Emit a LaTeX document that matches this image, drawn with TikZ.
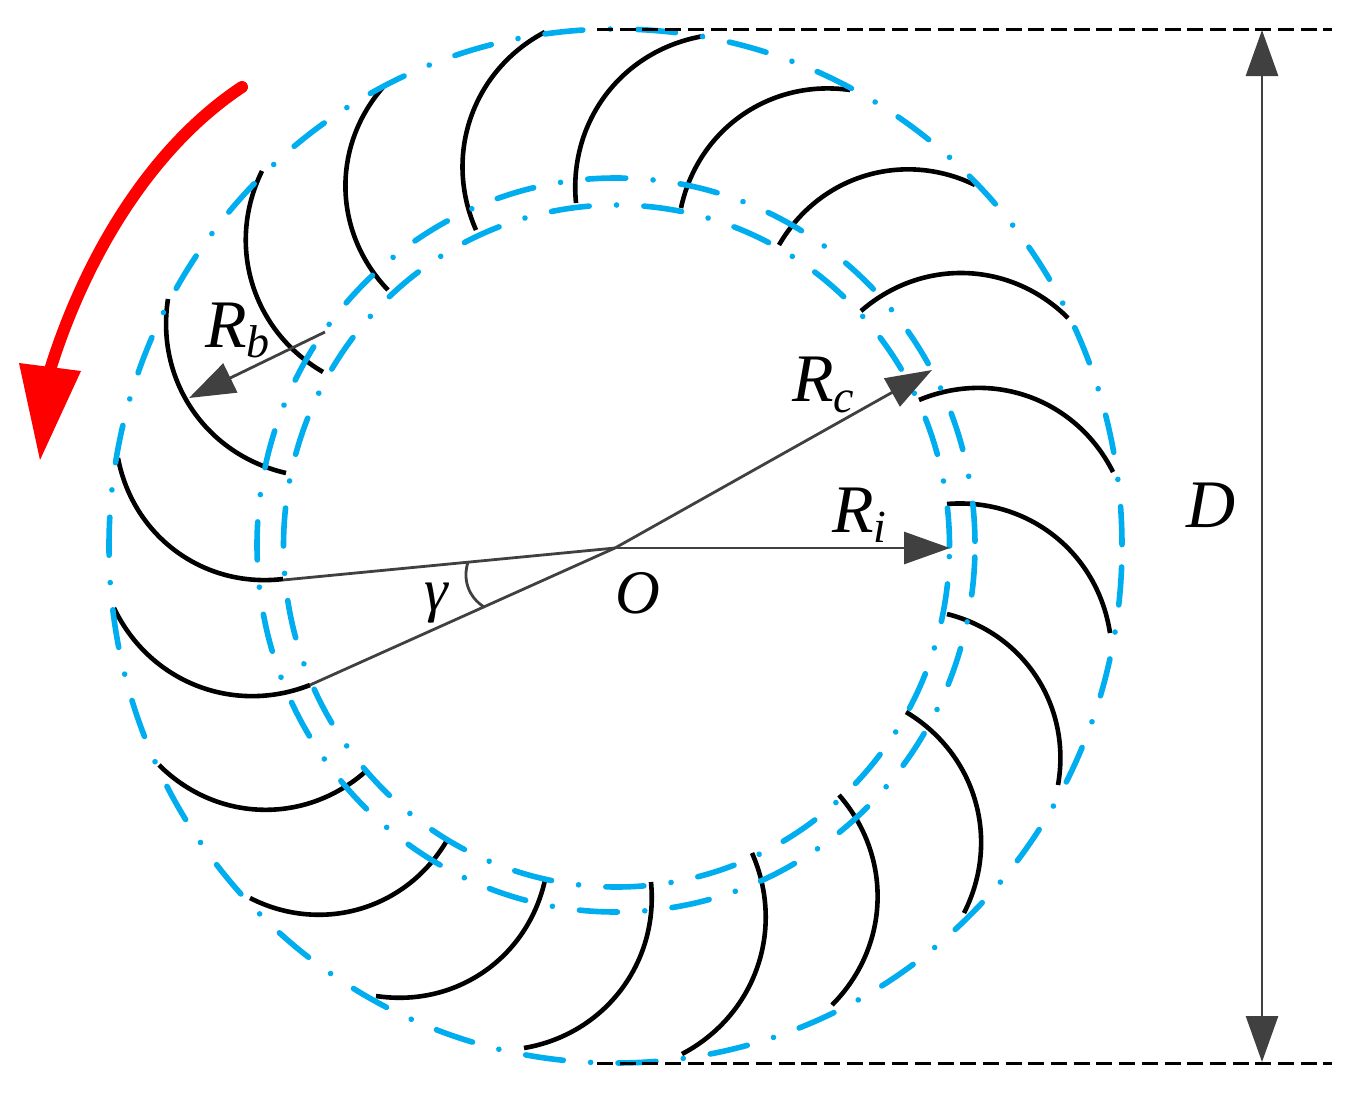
\documentclass[tikz,border=0pt]{standalone}
\usepackage{fontspec}
\setmainfont{Liberation Serif}
\usetikzlibrary{arrows.meta,calc}
\definecolor{ringblue}{HTML}{00AEEF}
\definecolor{dimgray}{HTML}{404040}
\newcommand{\lbl}[2]{{\fontsize{#1}{#1}\selectfont\itshape #2}}
\tikzset{
  ring/.style={draw=ringblue,line width=5.6pt,line cap=round,dash pattern=on 38pt off 27.4pt on 0.01pt off 27.4pt,dash phase=#1},
  blade/.style={draw=black,line width=4.6pt,bend left=#1},
  dimline/.style={draw=dimgray,line width=2.8pt},
  dimarrow/.style={dimline,-{Triangle[length=46pt,width=32pt,fill=dimgray]}},
  extline/.style={draw=black,line width=3pt,dash pattern=on 16pt off 6.7pt},
  txt/.style={anchor=base west,inner sep=0pt,outer sep=0pt}
}
\begin{document}
\begin{tikzpicture}[x=1pt,y=-1pt]
\useasboundingbox (0,0) rectangle (1357,1095);
% blades
\foreach \n/\ax/\ay/\bx/\by/\ang in {
 a/576/203/704/36/43, b/681/208/850/90/43, c/779/245/975/185/43, d/861/311/1068/318/43,
 e/919/400/1113/472/43, f/947/504/1110/633/43, g/947/614/1058/785/43, h/906/712/964/913/43,
 i/839/795/832/1005/43, j/752/853/682/1054/43, k/651/882/524/1048/43, l/545/880/376/996/43,
 m/446/842/250/898/43, n/365/772/159/765/43, o/310/685/114/608/43, p/283/579/118/458/43,
 q/286/473/168/299/43, r/323/372/262/171/43, s/388/290/385/85/43, t/476/230/545/32/43}{
  \coordinate (in\n) at (\ax,\ay);
  \coordinate (out\n) at (\bx,\by);
  \draw[blade=\ang] (in\n) to (out\n);
}
% rings
\draw[ring=71.8] (615.5,546) ellipse [x radius=506.5,y radius=517];
\draw[ring=80.8] (616,545) ellipse [x radius=359,y radius=367];
\draw[ring=54.8] (616.5,546) ellipse [x radius=333,y radius=341];
% extension lines
\coordinate (topL) at (597,29.3); \coordinate (topR) at (1332,29.3);
\coordinate (botL) at (597,1063); \coordinate (botR) at (1332,1063);
\draw[extline] (topL) -- (topR);
\draw[extline] (botL) -- (botR);
% dimensions
\coordinate (O) at (615,548);
\coordinate (Ric) at (950,548);
\coordinate (Rcc) at (932,370);
\coordinate (Rbs) at (325,332);
\coordinate (Rbe) at (189,398);
\coordinate (G1) at (283,580);
\coordinate (G2) at (310,685);
\coordinate (A1) at (468,562);
\coordinate (A2) at (484,607);
\coordinate (D1) at (1262,30);
\coordinate (D2) at (1262,1062);
\draw[dimarrow] (O) -- (Ric);
\draw[dimarrow] (O) -- (Rcc);
\draw[dimarrow] (Rbs) -- (Rbe);
\draw[dimline] (O) -- (G1);
\draw[dimline] (O) -- (G2);
\draw[dimline] (A1) to[bend right=37] (A2);
\draw[dimarrow,{Triangle[length=46pt,width=32pt,fill=dimgray]}-{Triangle[length=46pt,width=32pt,fill=dimgray]}] (D1) -- (D2);
% rotation arrow
\coordinate (Rs) at (242,87);
\coordinate (Re) at (50,370);
\coordinate (Rc1) at (150,148);
\coordinate (Rc2) at (85,258);
\draw[red,line width=12pt,line cap=round] (Rs) .. controls (Rc1) and (Rc2) .. (Re);
\fill[red] (19,363) -- (81,371) -- (40,460) -- cycle;
% labels
\node[txt] (Rb) at (205,347) {\lbl{68}{R\raisebox{-10pt}{\fontsize{46}{46}\selectfont b}}};
\node[txt] (Rc) at (792,401) {\lbl{68}{R\raisebox{-11pt}{\fontsize{46}{46}\selectfont c}}};
\node[txt] (Ri) at (832,532) {\lbl{68}{R\raisebox{-10pt}{\fontsize{46}{46}\selectfont i}}};
\node[txt] (Dl) at (1186,527) {\lbl{68}{D}};
\node[txt] (Ol) at (615,613) {\lbl{62}{O}};
\node[txt] (Gl) at (424,610) {\lbl{60}{γ}};
\end{tikzpicture}
\end{document}
